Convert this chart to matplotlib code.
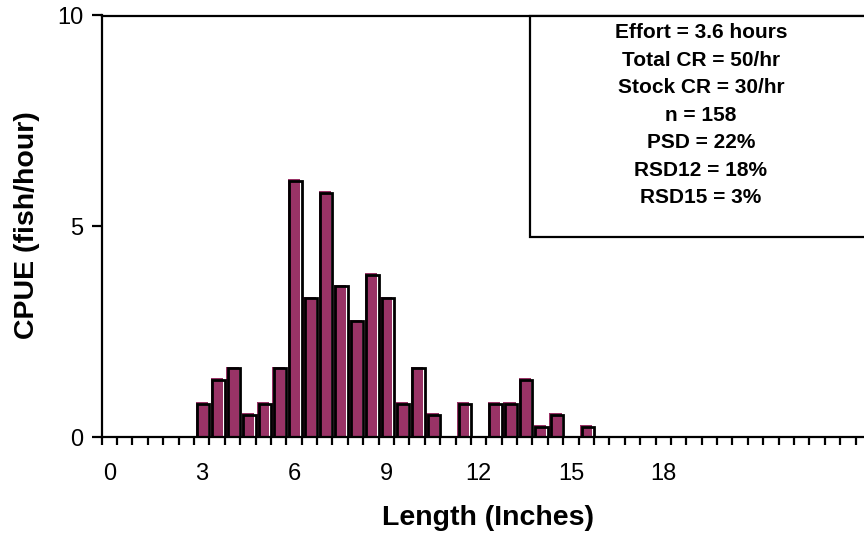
import matplotlib
matplotlib.use("Agg")
import matplotlib.pyplot as plt
import matplotlib.transforms as mtransforms
from matplotlib.patches import Rectangle
import numpy as np

plt.rcParams['font.family'] = ['Liberation Sans', 'DejaVu Sans']

# Length classes (half-inch groups) and catch per unit effort
lengths = [3.0, 3.5, 4.0, 4.5, 5.0, 5.5, 6.0, 6.5, 7.0, 7.5, 8.0, 8.5, 9.0,
           9.5, 10.0, 10.5, 11.0, 11.5, 12.0, 12.5, 13.0, 13.5, 14.0, 14.5,
           15.0, 15.5]
cpue = [0.83, 1.39, 1.67, 0.56, 0.83, 1.67, 6.11, 3.33, 5.83, 3.61, 2.78,
        3.89, 3.33, 0.83, 1.67, 0.56, 0.0, 0.83, 0.0, 0.83, 0.83, 1.39, 0.28,
        0.56, 0.0, 0.28]

x_tick_labels = [0, 3, 6, 9, 12, 15, 18]
y_ticks = [0, 5, 10]

stats_lines = ["Effort = 3.6 hours", "Total CR = 50/hr", "Stock CR = 30/hr",
               "n = 158", "PSD = 22%", "RSD12 = 18%", "RSD15 = 3%"]

BAR_COLOR = "#993366"

W, H = 864, 541
fig = plt.figure(figsize=(W / 100, H / 100), dpi=100)
left_px, right_px, top_px, bottom_px = 101.7, 870.9, 15.5, 437.0
ax = fig.add_axes([left_px / W, (H - bottom_px) / H,
                   (right_px - left_px) / W, (bottom_px - top_px) / H])

bar_w = 0.4
# purple fill
ax.bar(lengths, cpue, width=bar_w, color=BAR_COLOR, linewidth=0, zorder=2)
# black outline, nudged right/down like a drop edge
shift = mtransforms.offset_copy(ax.transData, fig=fig, x=1.5, y=-1.5,
                                units='dots')
ax.bar(lengths, cpue, width=bar_w, facecolor='none', edgecolor='black',
       linewidth=2.0, zorder=3, transform=shift)

ax.set_xlim(-0.25, 24.75)
ax.set_ylim(0, 10)

for s in ax.spines.values():
    s.set_linewidth(1.6)
    s.set_color('black')
    s.set_zorder(4)

# category boundary ticks (no labels) and labelled category centres
ax.set_xticks(np.arange(-0.25, 24.76, 0.5))
ax.set_xticklabels([])
ax.tick_params(axis='x', which='major', direction='out', length=6,
               width=1.6, color='black')
ax.set_xticks(x_tick_labels, minor=True)
ax.set_xticklabels([str(v) for v in x_tick_labels], minor=True)
ax.tick_params(axis='x', which='minor', length=0, pad=19, labelsize=17)

ax.set_yticks(y_ticks)
ax.set_yticklabels([str(v) for v in y_ticks])
ax.tick_params(axis='y', direction='out', length=7, width=1.6, pad=6,
               labelsize=17)

# statistics box
box_x0 = (530 - left_px) / (right_px - left_px)
box_y0 = (bottom_px - 237) / (bottom_px - top_px)
ax.add_patch(Rectangle((box_x0, box_y0), 0.6, 1 - box_y0,
                       transform=ax.transAxes, facecolor='white',
                       edgecolor='black', linewidth=1.6, clip_on=False,
                       zorder=5))
text_x = (701 - left_px) / (right_px - left_px)
line_top_px, line_step_px = 33, 27.4
for i, line in enumerate(stats_lines):
    y_px = line_top_px + i * line_step_px
    ax.text(text_x, (bottom_px - y_px) / (bottom_px - top_px), line,
            transform=ax.transAxes, ha='center', va='center',
            fontsize=15, fontweight='bold', zorder=6)

fig.text(488 / W, (H - 518) / H, "Length (Inches)", ha='center',
         va='center', fontsize=20.5, fontweight='bold')
fig.text(27 / W, (H - 225) / H, "CPUE (fish/hour)", ha='center',
         va='center', rotation=90, fontsize=20.5, fontweight='bold')

fig.savefig("out.png", dpi=100)
